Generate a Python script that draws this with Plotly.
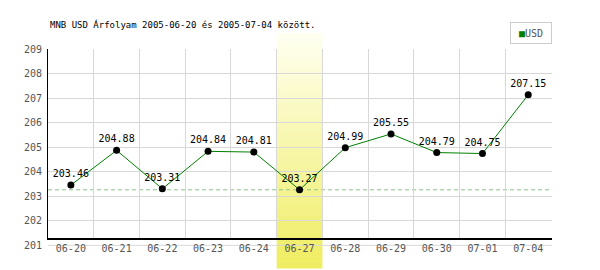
import plotly.graph_objects as go

# ---- data ----
dates = ["06-20", "06-21", "06-22", "06-23", "06-24", "06-27",
         "06-28", "06-29", "06-30", "07-01", "07-04"]
usd = [203.46, 204.88, 203.31, 204.84, 204.81, 203.27,
       204.99, 205.55, 204.79, 204.75, 207.15]
y_ticks = [202, 203, 204, 205, 206, 207, 208, 209]
bottom_tick = 201
highlight = "06-27"
title_text = "MNB USD Árfolyam 2005-06-20 és 2005-07-04 között."
series_name = "USD"

# ---- styling / geometry ----
MONO = "DejaVu Sans Mono"
Y_RANGE = [201.3, 209.02]
X_RANGE = [-0.5, len(dates) - 0.5 + 0.02]
L, R, T, B = 48, 48, 49, 32
W, H = 600, 270
plot_h = H - T - B


def ypaper_from_px(py):
    return (H - B - py) / plot_h


def ypaper_from_val(v):
    return (v - Y_RANGE[0]) / (Y_RANGE[1] - Y_RANGE[0])


def xpaper_from_val(v):
    return (v - X_RANGE[0]) / (X_RANGE[1] - X_RANGE[0])


fig = go.Figure()

fig.add_trace(go.Scatter(
    x=list(range(len(dates))), y=usd,
    mode="lines+markers+text",
    line=dict(color="#008000", width=1),
    marker=dict(color="black", size=7),
    text=[f"{v:.2f}" for v in usd],
    textposition="top center",
    textfont=dict(family=MONO, size=10, color="black"),
    showlegend=False, hoverinfo="skip", cliponaxis=False,
))

shapes = []
# gradient highlight band (stacked strips)
hi = dates.index(highlight)
bx0, bx1 = xpaper_from_val(hi - 0.5), xpaper_from_val(hi + 0.5)
top_px, bot_px = 33, 268
n = 40
c_top = (255, 255, 242)
c_bot = (239, 237, 96)
for i in range(n):
    f = (i + 0.5) / n
    c = tuple(round(c_top[k] + (c_bot[k] - c_top[k]) * f) for k in range(3))
    p0 = top_px + (bot_px - top_px) * i / n
    p1 = top_px + (bot_px - top_px) * (i + 1) / n + 0.6
    shapes.append(dict(type="rect", xref="paper", yref="paper",
                       x0=bx0, x1=bx1, y0=ypaper_from_px(p1), y1=ypaper_from_px(p0),
                       fillcolor="rgb(%d,%d,%d)" % c, line=dict(width=0),
                       layer="between"))
# min dashed line
shapes.append(dict(type="line", xref="paper", yref="y",
                   x0=0, x1=0.995, y0=min(usd), y1=min(usd),
                   line=dict(color="#8fc48f", width=1, dash="4px,3px"),
                   layer="below"))
# grey baseline at bottom tick
yb = ypaper_from_val(bottom_tick)
shapes.append(dict(type="line", xref="paper", yref="paper",
                   x0=0, x1=1, y0=yb, y1=yb,
                   line=dict(color="#d8d8d8", width=1), layer="below"))

annotations = [
    dict(text=str(bottom_tick), xref="paper", yref="paper", x=0, y=yb,
         xanchor="right", yanchor="middle", xshift=-4, showarrow=False,
         font=dict(family=MONO, size=10, color="#555555")),
    dict(text="<span style='color:#008000'>■</span>" + series_name,
         xref="paper", yref="paper", x=1, y=ypaper_from_px(22),
         xanchor="right", yanchor="top", showarrow=False,
         width=32, height=12, borderpad=4, bordercolor="#cccccc", borderwidth=1,
         font=dict(family=MONO, size=10, color="#555555")),
]

fig.update_layout(
    width=W, height=H,
    margin=dict(l=L, r=R, t=T, b=B, pad=0),
    paper_bgcolor="white", plot_bgcolor="white",
    title=dict(text=title_text, x=50 / W, xanchor="left", xref="container",
               y=1 - 25 / H, yanchor="middle", yref="container",
               font=dict(family=MONO, size=9, color="black")),
    shapes=shapes, annotations=annotations,
    showlegend=False,
)
fig.update_xaxes(
    type="linear", range=X_RANGE,
    tickmode="array", tickvals=list(range(len(dates))), ticktext=dates,
    showgrid=False,
    minor=dict(tickmode="array", tickvals=[i - 0.5 for i in range(len(dates) + 1)],
               showgrid=True, gridcolor="#d8d8d8", gridwidth=1, ticks=""),
    ticks="",
    tickfont=dict(family=MONO, size=10, color="#555555"),
    showline=True, linecolor="black", linewidth=1.5,
    zeroline=False, fixedrange=True,
)
fig.update_yaxes(
    range=Y_RANGE, tickmode="array", tickvals=y_ticks,
    showgrid=True, gridcolor="#d8d8d8", gridwidth=1,
    ticks="outside", ticklen=3, tickcolor="rgba(0,0,0,0)",
    tickfont=dict(family=MONO, size=10, color="#555555"),
    showline=True, linecolor="black", linewidth=1,
    zeroline=False, fixedrange=True,
)

fig.write_html("out.html", config={"displayModeBar": False})
